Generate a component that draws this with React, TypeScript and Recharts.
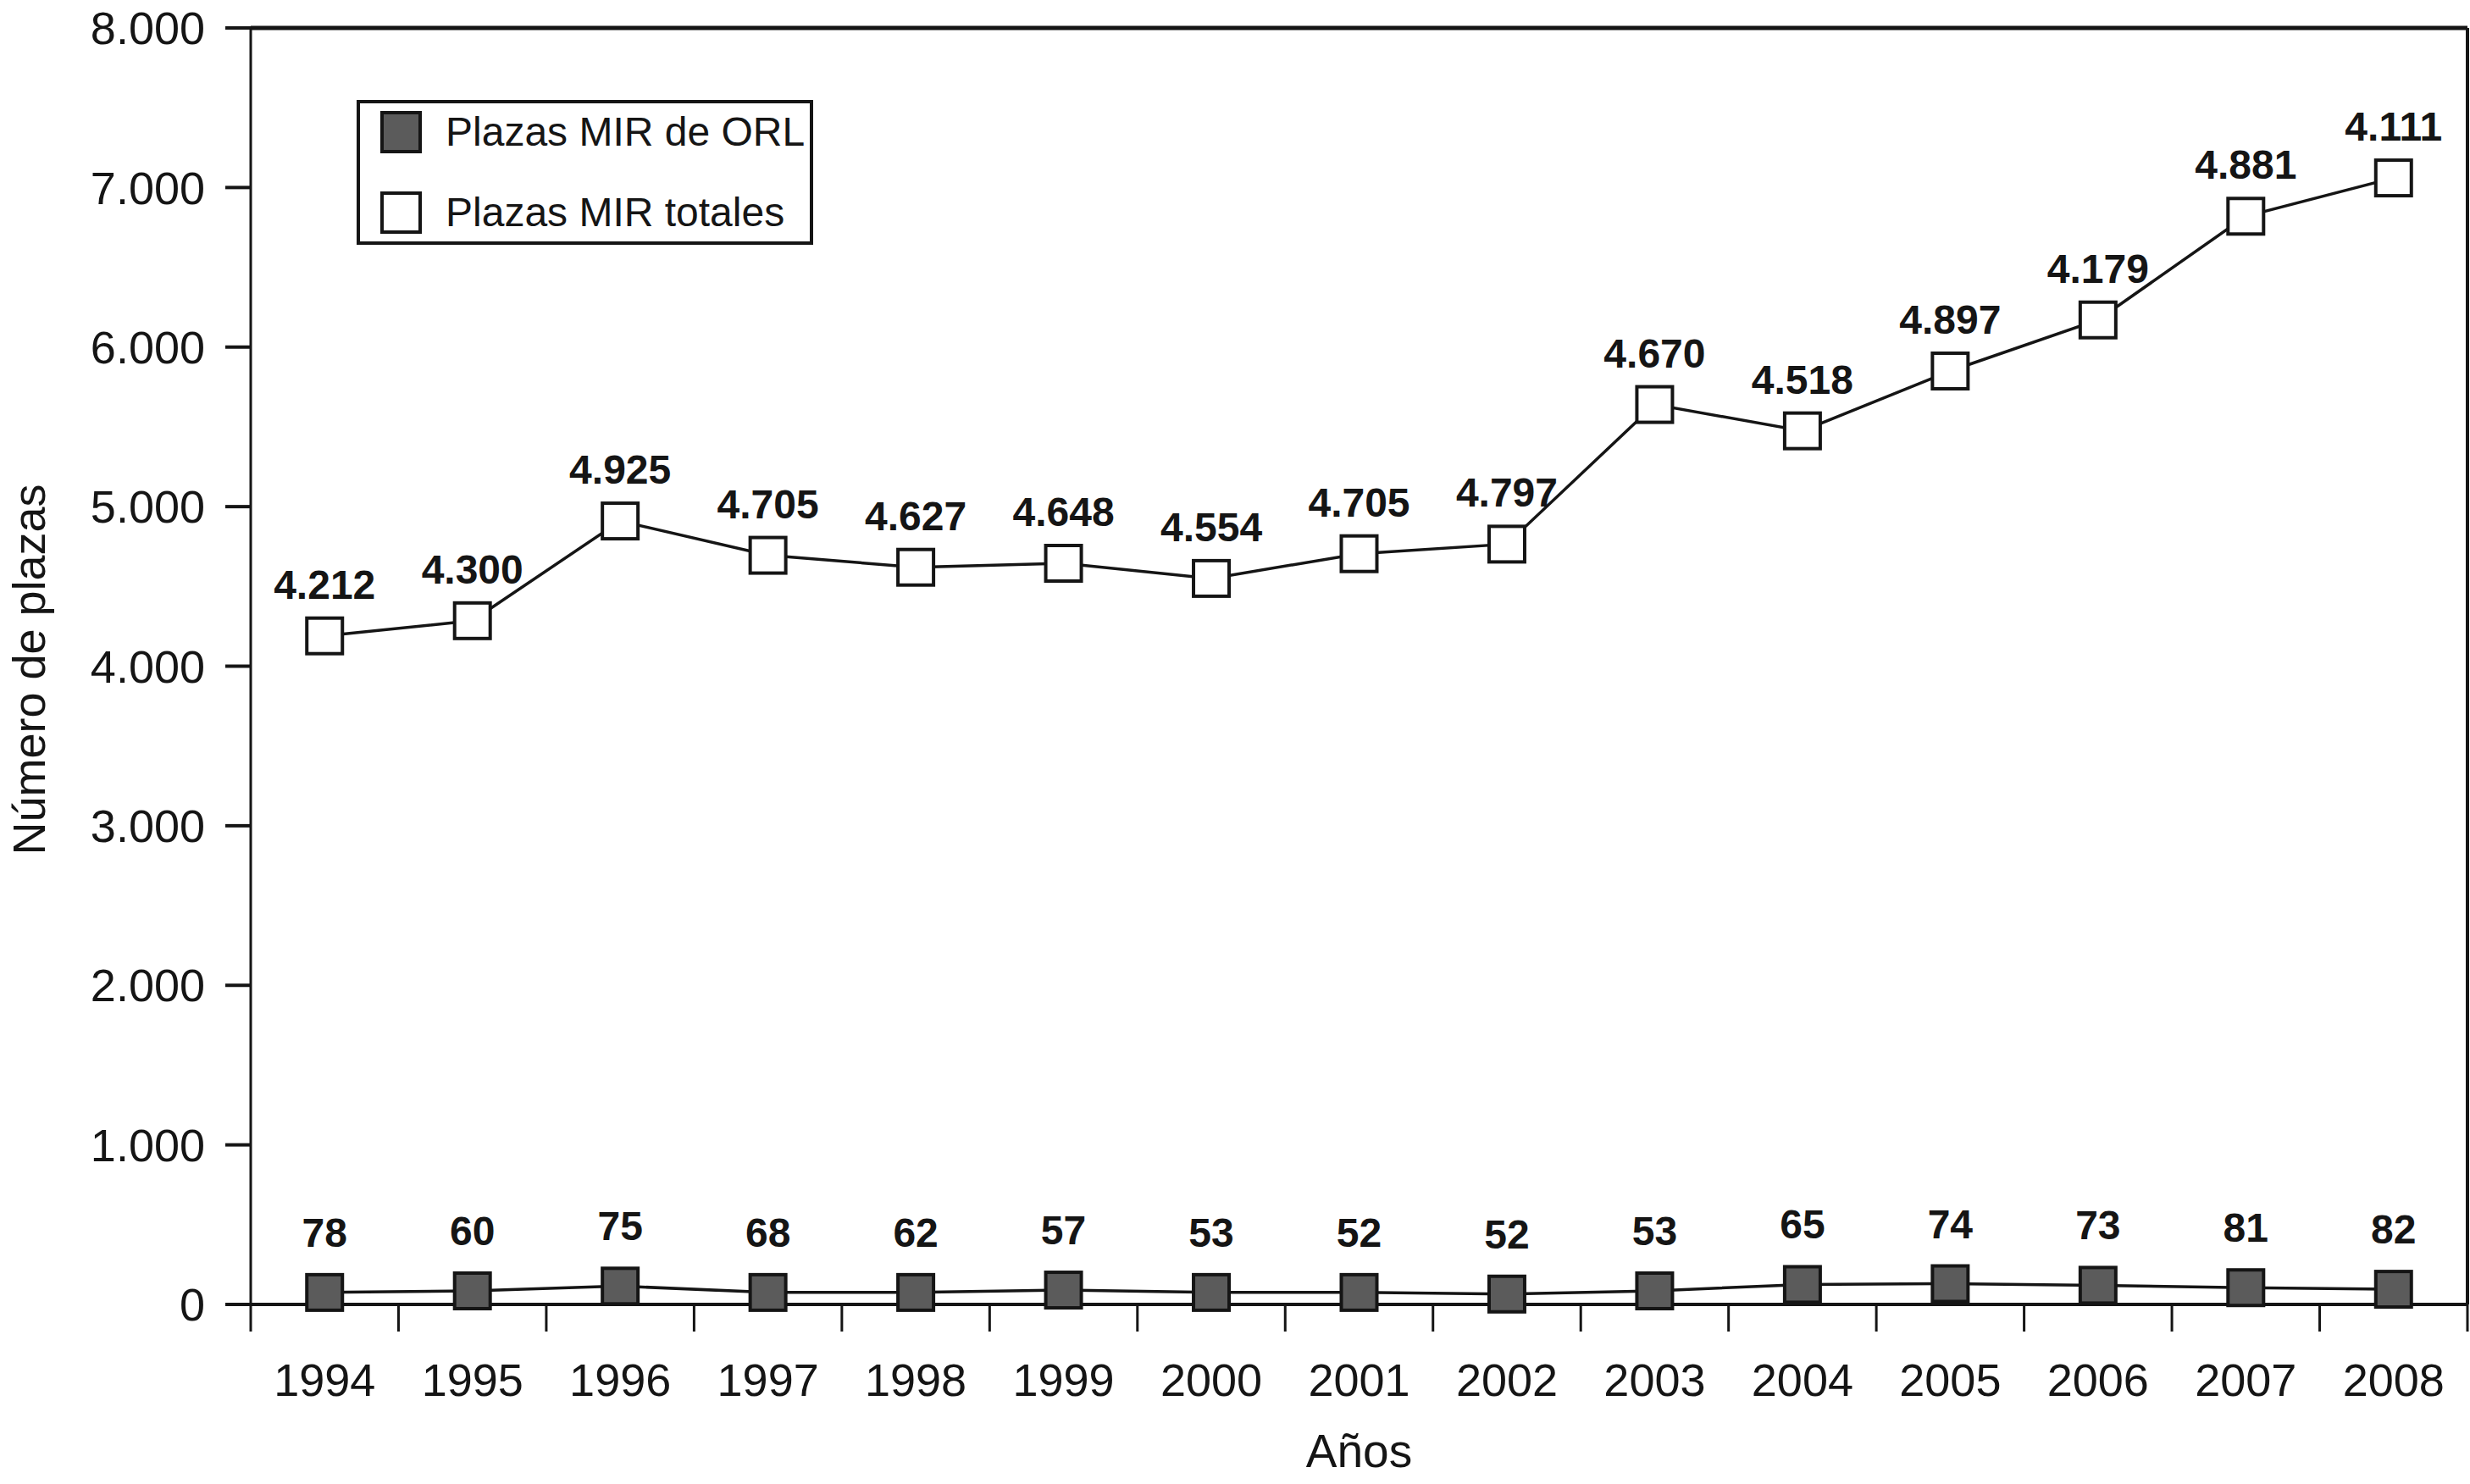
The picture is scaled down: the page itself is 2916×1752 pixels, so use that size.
import { LineChart, Line, XAxis, YAxis, CartesianGrid, ReferenceLine, LabelList, Legend, Label } from "recharts";

const years = ["1994", "1995", "1996", "1997", "1998", "1999", "2000", "2001", "2002", "2003", "2004", "2005", "2006", "2007", "2008"];
const orlPlazas = [75, 85, 115, 75, 75, 90, 75, 75, 65, 85, 125, 130, 120, 105, 95];
const totalPlazas = [4190, 4285, 4910, 4695, 4620, 4645, 4550, 4705, 4765, 5640, 5475, 5850, 6170, 6820, 7060];
const orlLabels = ["78", "60", "75", "68", "62", "57", "53", "52", "52", "53", "65", "74", "73", "81", "82"];
const totalLabels = ["4.212", "4.300", "4.925", "4.705", "4.627", "4.648", "4.554", "4.705", "4.797", "4.670", "4.518", "4.897", "4.179", "4.881", "4.111"];
const yTicks = [0, 1000, 2000, 3000, 4000, 5000, 6000, 7000, 8000];

const FONT = '"Liberation Sans", Arial, Helvetica, sans-serif';
const INK = "#151515";
const ORL_FILL = "#5b5b5b";

// one row per year, x sits in the middle of each year's slot
const data = years.map((year, i) => ({
  x: i + 0.5,
  year,
  orl: orlPlazas[i],
  total: totalPlazas[i],
  orlLabel: orlLabels[i],
  totalLabel: totalLabels[i]
}));

const slotTicks = years.map((_, i) => i).concat([years.length]);
const yearTicks = years.map((_, i) => i + 0.5);

const formatThousands = (v: number) => (v === 0 ? "0" : `${v / 1000}.000`);

const squareDot = (fill: string) => (props: any) => {
  const { cx, cy, index } = props;
  if (cx == null || cy == null) return <g key={index} />;
  return (
    <rect key={index} x={cx - 21} y={cy - 21} width={42} height={42} fill={fill} stroke={INK} strokeWidth={4} />
  );
};

const valueLabel = (lift: number) => (props: any) => {
  const x = props.x ?? props.viewBox?.x;
  const y = props.y ?? props.viewBox?.y;
  return (
    <text x={x} y={y - lift} textAnchor="middle" fontFamily={FONT} fontWeight="bold" fontSize={48} fill={INK}>
      {props.value}
    </text>
  );
};

function LegendBox() {
  const row = (fill: string, top: number, text: string) => (
    <div style={{ position: "absolute", left: 24, top, display: "flex", alignItems: "center" }}>
      <div style={{ width: 49, height: 50, boxSizing: "border-box", background: fill, border: `4px solid ${INK}` }} />
      <span style={{ marginLeft: 28, fontFamily: FONT, fontSize: 48, color: INK, lineHeight: "50px" }}>{text}</span>
    </div>
  );
  return (
    <div style={{ position: "relative", width: 539, height: 171, boxSizing: "border-box", border: `4px solid ${INK}`, background: "#fff" }}>
      {row(ORL_FILL, 9, "Plazas MIR de ORL")}
      {row("#fff", 104, "Plazas MIR totales")}
    </div>
  );
}

export default function App() {
  return (
    <div style={{ position: "absolute", left: 0, top: 0, width: 2916, height: 1752, background: "#fff" }}>
      <LineChart width={2916} height={1752} data={data} margin={{ top: 33, right: 0, left: 0, bottom: 0 }}>
        <CartesianGrid vertical={false} stroke="#333" strokeWidth={2.5} strokeDasharray="8 12" />
        <XAxis
          xAxisId="slots"
          type="number"
          dataKey="x"
          domain={[0, years.length]}
          ticks={slotTicks}
          interval={0}
          height={1}
          tickSize={32}
          tickFormatter={() => ""}
          axisLine={{ stroke: INK, strokeWidth: 4 }}
          tickLine={{ stroke: INK, strokeWidth: 3 }}
        />
        <XAxis
          xAxisId="years"
          type="number"
          dataKey="x"
          domain={[0, years.length]}
          ticks={yearTicks}
          height={211}
          tickSize={0}
          tickMargin={69}
          axisLine={false}
          tickLine={false}
          interval={0}
          tickFormatter={(v: number) => years[Math.floor(v)]}
          tick={{ fontFamily: FONT, fontSize: 54, fill: INK }}
        >
          <Label
            content={({ viewBox }: any) => (
              <text x={viewBox.x + viewBox.width / 2} y={viewBox.y + 191} textAnchor="middle" fontFamily={FONT} fontSize={55} fill={INK}>
                Años
              </text>
            )}
          />
        </XAxis>
        <YAxis
          yAxisId="left"
          width={296}
          domain={[0, 8000]}
          ticks={yTicks}
          interval={0}
          tickSize={30}
          tickMargin={24}
          tickFormatter={formatThousands}
          axisLine={{ stroke: INK, strokeWidth: 3 }}
          tickLine={{ stroke: INK, strokeWidth: 4 }}
          tick={{ fontFamily: FONT, fontSize: 54, fill: INK }}
        >
          <Label
            content={({ viewBox }: any) => {
              const cx = 53;
              const cy = viewBox.y + viewBox.height / 2 + 4;
              return (
                <text x={cx} y={cy} transform={`rotate(-90, ${cx}, ${cy})`} textAnchor="middle" fontFamily={FONT} fontSize={54} fill={INK}>
                  Número de plazas
                </text>
              );
            }}
          />
        </YAxis>
        <YAxis yAxisId="right" orientation="right" width={3} domain={[0, 8000]} tick={false} tickLine={false} axisLine={{ stroke: INK, strokeWidth: 4 }} />
        <ReferenceLine xAxisId="slots" yAxisId="left" y={8000} stroke={INK} strokeWidth={5} />
        <Legend
          layout="vertical"
          align="center"
          verticalAlign="middle"
          wrapperStyle={{ left: 421, top: 118, width: 539, height: 171 }}
          content={() => <LegendBox />}
        />
        <Line
          xAxisId="slots"
          yAxisId="left"
          dataKey="total"
          name="Plazas MIR totales"
          stroke={INK}
          strokeWidth={3.5}
          dot={squareDot("#fff")}
          activeDot={false}
          isAnimationActive={false}
        >
          <LabelList dataKey="totalLabel" content={valueLabel(44)} />
        </Line>
        <Line
          xAxisId="slots"
          yAxisId="left"
          dataKey="orl"
          name="Plazas MIR de ORL"
          stroke={INK}
          strokeWidth={3.5}
          dot={squareDot(ORL_FILL)}
          activeDot={false}
          isAnimationActive={false}
        >
          <LabelList dataKey="orlLabel" content={valueLabel(54)} />
        </Line>
      </LineChart>
    </div>
  );
}
